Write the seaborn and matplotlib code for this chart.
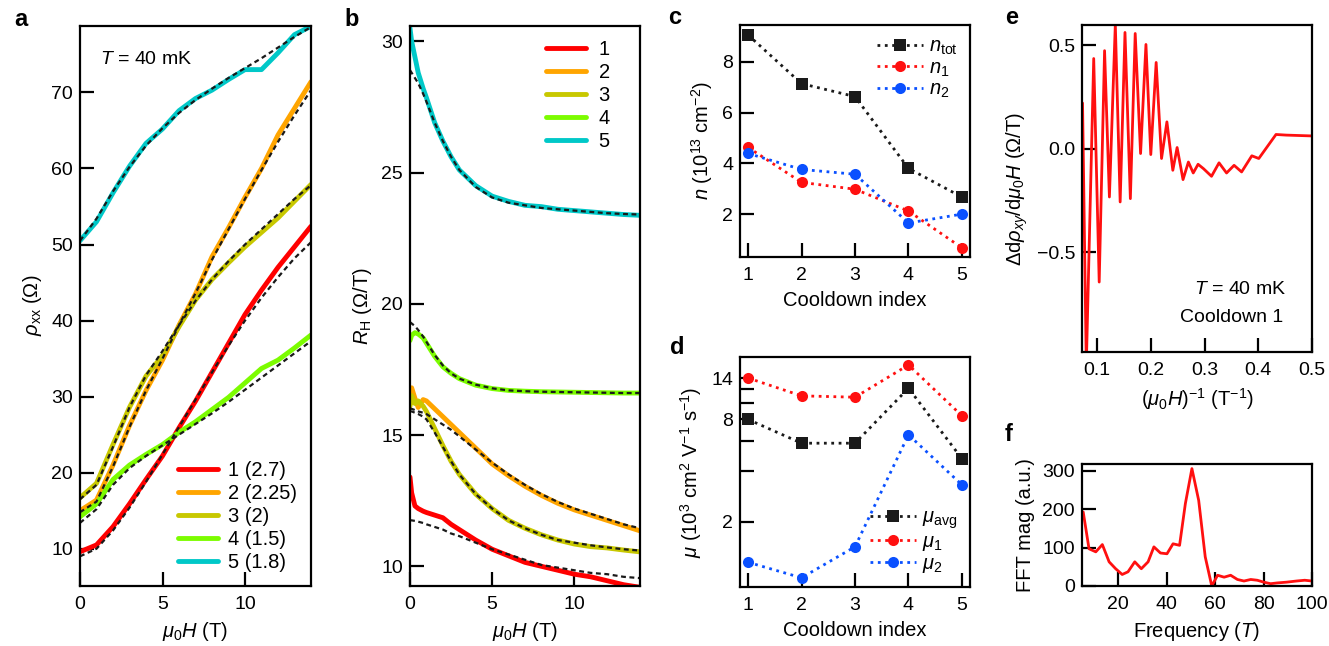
import numpy as np
import pandas as pd
import matplotlib
matplotlib.use('Agg')
import matplotlib.pyplot as plt
import seaborn as sns

# ---- panel a: rho_xx vs field, five cooldowns ----
field_a = [0, 1, 2, 3, 4, 5, 6, 7, 8, 9, 10, 11, 12, 13, 14]
rho_1 = [9.6, 10.5, 12.9, 15.9, 19.1, 22.2, 25.9, 29.4, 33.2, 37.0, 40.8, 44.0, 47.0, 49.7, 52.4]
rho_2 = [15.0, 16.4, 21.0, 26.2, 30.8, 34.8, 39.4, 43.5, 48.4, 52.2, 56.2, 60.0, 64.4, 67.9, 71.4]
rho_3 = [16.7, 18.6, 23.7, 28.6, 32.7, 35.4, 39.2, 42.7, 45.4, 47.6, 49.7, 51.6, 53.5, 55.7, 57.9]
rho_4 = [14.2, 15.9, 19.1, 21.0, 22.4, 23.7, 25.3, 26.7, 28.3, 29.9, 31.8, 33.7, 34.8, 36.4, 38.1]
rho_5 = [50.5, 53.0, 56.8, 60.3, 63.3, 65.2, 67.6, 69.2, 70.3, 71.7, 73.0, 73.0, 75.2, 77.6, 78.7]
rho_fit_1 = [9.0, 10.0, 12.4, 15.4, 18.8, 22.4, 26.0, 29.6, 33.2, 36.7, 40.0, 43.0, 45.7, 48.2, 50.3]
rho_fit_2 = [14.8, 16.2, 20.8, 26.0, 30.8, 35.0, 39.4, 43.6, 48.0, 52.0, 56.0, 59.8, 63.5, 67.0, 70.3]
rho_fit_3 = [16.5, 18.4, 23.4, 28.6, 32.8, 36.0, 39.4, 42.6, 45.4, 47.8, 50.0, 52.0, 54.0, 56.0, 57.8]
rho_fit_4 = [13.4, 15.2, 18.4, 20.6, 22.2, 23.6, 25.0, 26.4, 27.8, 29.3, 30.9, 32.5, 34.1, 35.7, 37.3]
rho_fit_5 = [50.5, 53.4, 57.0, 60.2, 63.0, 65.3, 67.3, 69.0, 70.5, 71.9, 73.2, 74.5, 75.9, 77.3, 78.6]
labels_a = ['1 (2.7)', '2 (2.25)', '3 (2)', '4 (1.5)', '5 (1.8)']

# ---- panel b: Hall coefficient vs field ----
field_b = [0, 0.1, 0.3, 0.5, 0.8, 1, 1.5, 2, 2.5, 3, 4, 5, 6, 7, 8, 9, 10, 11, 12, 13, 14]
rh_1 = [13.4, 12.8, 12.3, 12.2, 12.1, 12.05, 11.95, 11.85, 11.6, 11.4, 11.0, 10.65, 10.4, 10.15, 10.0, 9.85, 9.7, 9.6, 9.45, 9.3, 9.2]
rh_2 = [16.5, 16.8, 16.4, 16.05, 16.35, 16.3, 16.0, 15.7, 15.4, 15.1, 14.5, 13.9, 13.45, 13.05, 12.7, 12.4, 12.15, 11.95, 11.75, 11.55, 11.35]
rh_3 = [16.1, 16.5, 16.2, 16.3, 16.1, 15.9, 15.25, 14.6, 14.0, 13.5, 12.75, 12.2, 11.75, 11.45, 11.2, 11.0, 10.85, 10.75, 10.7, 10.62, 10.55]
rh_4 = [18.6, 18.8, 18.9, 18.85, 18.7, 18.5, 18.0, 17.6, 17.35, 17.15, 16.9, 16.77, 16.7, 16.67, 16.65, 16.64, 16.63, 16.62, 16.61, 16.6, 16.6]
rh_5 = [30.5, 30.0, 29.4, 28.8, 28.2, 27.85, 26.9, 26.2, 25.6, 25.1, 24.5, 24.1, 23.9, 23.75, 23.7, 23.6, 23.55, 23.5, 23.45, 23.4, 23.37]
rh_fit_1 = [11.75, 11.75, 11.73, 11.7, 11.65, 11.6, 11.5, 11.4, 11.25, 11.15, 10.9, 10.65, 10.45, 10.25, 10.05, 9.95, 9.85, 9.75, 9.7, 9.6, 9.55]
rh_fit_2 = [16.0, 16.0, 15.95, 15.9, 15.85, 15.8, 15.6, 15.4, 15.2, 14.95, 14.45, 13.95, 13.5, 13.1, 12.75, 12.45, 12.2, 12.0, 11.8, 11.6, 11.45]
rh_fit_3 = [15.9, 15.9, 15.85, 15.8, 15.7, 15.6, 15.1, 14.55, 14.0, 13.5, 12.75, 12.2, 11.75, 11.45, 11.2, 11.0, 10.9, 10.8, 10.72, 10.65, 10.6]
rh_fit_4 = [19.3, 19.25, 19.15, 19.0, 18.75, 18.55, 18.05, 17.65, 17.35, 17.15, 16.92, 16.78, 16.7, 16.67, 16.65, 16.64, 16.63, 16.62, 16.61, 16.6, 16.6]
rh_fit_5 = [28.9, 28.8, 28.6, 28.4, 28.0, 27.7, 26.9, 26.2, 25.6, 25.1, 24.45, 24.05, 23.85, 23.75, 23.65, 23.6, 23.55, 23.5, 23.45, 23.42, 23.4]
labels_b = ['1', '2', '3', '4', '5']

# ---- panels c, d: carrier density and mobility ----
cooldown = [1, 2, 3, 4, 5]
n_tot = [9.06, 7.14, 6.63, 3.80, 2.67]
n_1 = [4.63, 3.25, 2.98, 2.12, 0.67]
n_2 = [4.39, 3.76, 3.57, 1.65, 2.00]
mu_avg = [8.0, 5.8, 5.8, 12.2, 4.7]
mu_1 = [14.0, 11.0, 10.8, 16.7, 8.4]
mu_2 = [1.16, 0.94, 1.43, 6.5, 3.3]

# ---- panel e: oscillating part vs inverse field ----
inv_field = [0.073, 0.080, 0.0938, 0.104, 0.114, 0.123, 0.134, 0.143, 0.152, 0.162, 0.171, 0.181,
             0.191, 0.200, 0.210, 0.220, 0.230, 0.241, 0.249, 0.260, 0.270, 0.279, 0.288, 0.298,
             0.313, 0.327, 0.341, 0.355, 0.369, 0.388, 0.401, 0.433, 0.452, 0.500]
osc = [0.22, -1.05, 0.435, -0.645, 0.473, -0.234, 0.60, -0.258, 0.561, -0.242, 0.556, -0.024,
       0.503, -0.029, 0.416, -0.048, 0.129, -0.105, 0.005, -0.15, -0.065, -0.118, -0.076, -0.097,
       -0.134, -0.069, -0.118, -0.081, -0.113, -0.035, -0.048, 0.068, 0.065, 0.061]

# ---- panel f: FFT ----
freq = [5.5, 7.9, 10.7, 13.4, 16.2, 18.9, 21.6, 24.0, 26.8, 29.5, 32.3, 34.7, 37.4, 40.1, 42.6,
        45.3, 47.7, 50.4, 53.2, 55.9, 58.6, 61.0, 63.7, 66.4, 69.2, 71.9, 74.7, 77.4, 80.1, 82.9,
        85.6, 89.5, 93.6, 97.0, 100.0]
fft_mag = [193, 97, 89, 108, 63, 45, 30, 37, 63, 45, 63, 102, 86, 84, 110, 106, 215, 306, 223, 76,
           0, 28, 23, 28, 17, 13, 17, 15, 10, 6, 8, 10, 13, 15, 13]

colors = ['#ff0000', '#ffa500', '#c8c800', '#7cfc00', '#00c8c8']
blue = '#0a50ff'

sns.set_theme(style='ticks')
plt.rcParams.update({
    'font.family': ['Liberation Sans', 'DejaVu Sans'],
    'mathtext.fontset': 'custom',
    'mathtext.rm': 'Liberation Sans',
    'mathtext.it': 'Liberation Sans:italic',
    'mathtext.bf': 'Liberation Sans:bold',
    'font.size': 14,
    'axes.labelsize': 14.5,
    'xtick.labelsize': 14,
    'ytick.labelsize': 14,
    'text.color': 'black',
    'axes.labelcolor': 'black',
    'xtick.color': 'black',
    'ytick.color': 'black',
    'axes.linewidth': 1.6,
    'axes.edgecolor': 'black',
    'xtick.direction': 'in',
    'ytick.direction': 'in',
    'xtick.major.size': 10,
    'ytick.major.size': 10,
    'xtick.major.width': 1.6,
    'ytick.major.width': 1.6,
    'xtick.major.pad': 7,
    'ytick.major.pad': 5,
    'axes.labelpad': 5,
    'legend.fontsize': 14.5,
})

W, H = 1329, 646
fig = plt.figure(figsize=(W / 100, H / 100), dpi=100)


def rect(x0, x1, y0, y1):
    return [x0 / W, 1 - y1 / H, (x1 - x0) / W, (y1 - y0) / H]


ax_a = fig.add_axes(rect(80, 311, 25.5, 586))
ax_b = fig.add_axes(rect(410, 640, 25.5, 586))
ax_c = fig.add_axes(rect(740, 970, 25, 257))
ax_d = fig.add_axes(rect(740, 970, 357, 587))
ax_e = fig.add_axes(rect(1082, 1312, 25, 352))
ax_f = fig.add_axes(rect(1082, 1312, 464, 586))

dash = (0, (2.2, 1.6))

# Panel a
data_a = [rho_1, rho_2, rho_3, rho_4, rho_5]
fits_a = [rho_fit_1, rho_fit_2, rho_fit_3, rho_fit_4, rho_fit_5]
df_a = pd.DataFrame({'field': field_a * 5,
                     'rho': sum(data_a, []),
                     'label': sum([[l] * len(field_a) for l in labels_a], [])})
df_af = pd.DataFrame({'field': field_a * 5,
                      'rho': sum(fits_a, []),
                      'label': sum([[l] * len(field_a) for l in labels_a], [])})
sns.lineplot(data=df_a, x='field', y='rho', hue='label', palette=colors, lw=3.5, ax=ax_a)
sns.lineplot(data=df_af, x='field', y='rho', units='label', estimator=None, color='k',
             lw=1.6, ls=dash, ax=ax_a, legend=False)
ax_a.set_xlim(0, 14)
ax_a.set_ylim(5.1, 78.8)
ax_a.set_xticks([0, 5, 10])
ax_a.set_yticks([10, 20, 30, 40, 50, 60, 70])
ax_a.set_xlabel(r'$\mu_0H$ (T)')
ax_a.set_ylabel(r'$\rho_{\rm xx}$ (Ω)')
ax_a.text(0.085, 0.955, r'$T$ = 40 mK', transform=ax_a.transAxes, ha='left', va='top')
ax_a.legend(loc='lower right', frameon=False, handlelength=2.0, labelspacing=0.2,
            handletextpad=0.5, borderaxespad=0.3)

# Panel b
data_b = [rh_1, rh_2, rh_3, rh_4, rh_5]
fits_b = [rh_fit_1, rh_fit_2, rh_fit_3, rh_fit_4, rh_fit_5]
df_b = pd.DataFrame({'field': field_b * 5,
                     'rh': sum(data_b, []),
                     'label': sum([[l] * len(field_b) for l in labels_b], [])})
df_bf = pd.DataFrame({'field': field_b * 5,
                      'rh': sum(fits_b, []),
                      'label': sum([[l] * len(field_b) for l in labels_b], [])})
sns.lineplot(data=df_b, x='field', y='rh', hue='label', palette=colors, lw=3.5, ax=ax_b)
sns.lineplot(data=df_bf, x='field', y='rh', units='label', estimator=None, color='k',
             lw=1.6, ls=dash, ax=ax_b, legend=False)
ax_b.set_xlim(0, 14)
ax_b.set_ylim(9.25, 30.6)
ax_b.set_xticks([0, 5, 10])
ax_b.set_yticks([10, 15, 20, 25, 30])
ax_b.set_xlabel(r'$\mu_0H$ (T)')
ax_b.set_ylabel(r'$R_{\rm H}$ (Ω/T)')
ax_b.legend(loc='upper right', frameon=False, handlelength=2.0, labelspacing=0.2,
            handletextpad=0.6, borderaxespad=0.3, bbox_to_anchor=(0.93, 1.0))

# Panel c
mk = dict(lw=2, ls=':', markersize=8, markeredgewidth=0)
sns.lineplot(x=cooldown, y=n_tot, color='k', marker='s', label=r'$n_{\rm tot}$', ax=ax_c, **mk)
sns.lineplot(x=cooldown, y=n_1, color='#ff1010', marker='o', label=r'$n_1$', ax=ax_c, **mk)
sns.lineplot(x=cooldown, y=n_2, color=blue, marker='o', label=r'$n_2$', ax=ax_c, **mk)
ax_c.set_xlim(0.85, 5.15)
ax_c.set_ylim(0.31, 9.45)
ax_c.set_xticks(cooldown)
ax_c.set_yticks([2, 4, 6, 8])
ax_c.set_xlabel('Cooldown index')
ax_c.set_ylabel(r'$n$ (10$^{13}$ cm$^{-2}$)')
ax_c.legend(loc='upper right', frameon=False, handlelength=2.3, labelspacing=0.05,
            handletextpad=0.3, borderaxespad=0.2)

# Panel d
sns.lineplot(x=cooldown, y=mu_avg, color='k', marker='s', label=r'$\mu_{\rm avg}$', ax=ax_d, **mk)
sns.lineplot(x=cooldown, y=mu_1, color='#ff1010', marker='o', label=r'$\mu_1$', ax=ax_d, **mk)
sns.lineplot(x=cooldown, y=mu_2, color=blue, marker='o', label=r'$\mu_2$', ax=ax_d, **mk)
ax_d.set_yscale('log')
ax_d.set_xlim(0.85, 5.15)
ax_d.set_ylim(0.83, 18.6)
ax_d.set_xticks(cooldown)
ax_d.set_yticks([2, 4, 6, 8, 10, 12, 14])
ax_d.set_yticklabels(['2', '', '', '8', '', '', '14'])
ax_d.minorticks_off()
ax_d.set_xlabel('Cooldown index')
ax_d.set_ylabel(r'$\mu$ (10$^3$ cm$^2$ V$^{-1}$ s$^{-1}$)')
ax_d.legend(loc='lower right', frameon=False, handlelength=2.3, labelspacing=0.05,
            handletextpad=0.3, borderaxespad=0.2)

# Panel e
sns.lineplot(x=inv_field, y=osc, color='#ff1010', lw=2, ax=ax_e)
ax_e.set_xlim(0.072, 0.5)
ax_e.set_ylim(-0.983, 0.597)
ax_e.set_xticks([0.1, 0.2, 0.3, 0.4, 0.5])
ax_e.set_yticks([-0.5, 0.0, 0.5])
ax_e.set_xlabel(r'$(\mu_0H)^{-1}$ (T$^{-1}$)')
ax_e.set_ylabel(r'Δd$\rho_{xy}$/d$\mu_0H$ (Ω/T)')
ax_e.text(0.89, 0.19, r'$T$ = 40 mK', transform=ax_e.transAxes, ha='right', va='center')
ax_e.text(0.875, 0.104, 'Cooldown 1', transform=ax_e.transAxes, ha='right', va='center')

# Panel f
sns.lineplot(x=freq, y=fft_mag, color='#ff1010', lw=2, ax=ax_f)
ax_f.set_xlim(5, 100)
ax_f.set_ylim(0, 318)
ax_f.set_xticks([20, 40, 60, 80, 100])
ax_f.set_yticks([0, 100, 200, 300])
ax_f.set_xlabel(r'Frequency ($T$)')
ax_f.set_ylabel('FFT mag (a.u.)')

for ax in [ax_a, ax_b, ax_c, ax_d, ax_e, ax_f]:
    for s in ax.spines.values():
        s.set_visible(True)
    ax.tick_params(top=False, right=False)

for lab, (x, y) in zip('abcdef', [(14, 8), (344, 8), (668, 6), (670, 336), (1005, 6), (1005, 423)]):
    fig.text(x / W, 1 - y / H, lab, fontsize=17, fontweight='bold', ha='left', va='top')

fig.savefig('out.png', dpi=100)
